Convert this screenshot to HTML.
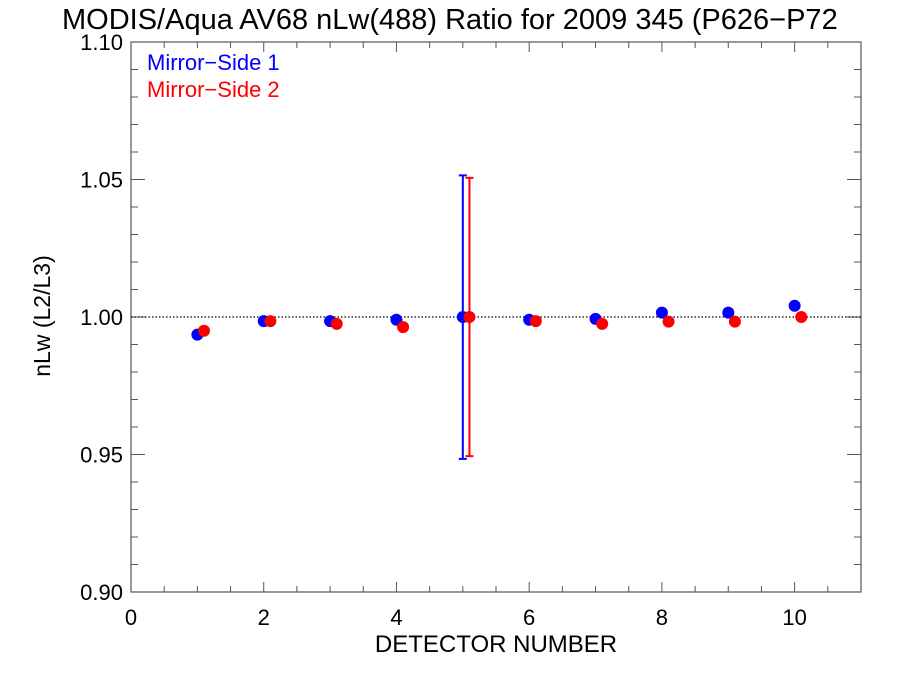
<!DOCTYPE html>
<html><head><meta charset="utf-8"><style>
body{margin:0;background:#fff}
svg{display:block;font-family:"Liberation Sans",Arial,sans-serif}
</style></head><body>
<svg id="chart" width="900" height="675">
<rect width="900" height="675" fill="#fff"/>
<text x="62" y="29" font-size="29">MODIS/Aqua AV68 nLw(488) Ratio for 2009 345 (P626−P72</text>
<g id="axes"></g>
<g id="marks"></g>
<text x="147" y="70" font-size="22" fill="#0000ff">Mirror−Side 1</text>
<text x="147" y="97" font-size="22" fill="#ff0000">Mirror−Side 2</text>
<text x="496" y="652" font-size="24" text-anchor="middle">DETECTOR NUMBER</text>
<text transform="translate(50,316) rotate(-90)" font-size="23" text-anchor="middle">nLw (L2/L3)</text>
</svg>
<script>
const detectors=[1,2,3,4,5,6,7,8,9,10];
const side1=[0.9936,0.9985,0.9985,0.999,1.000,0.999,0.9993,1.0016,1.0016,1.0041];
const side2=[0.995,0.9985,0.9975,0.9963,1.000,0.9985,0.9975,0.9983,0.9983,1.000];
const errDetector=5;
const err1=[0.9484,1.0515];
const err2=[0.9494,1.0506];
const xTicks=["0","2","4","6","8","10"];
const yTicks=["0.90","0.95","1.00","1.05","1.10"];
const X0=131,X1=861,Y0=592,Y1=42;
const sx=v=>X0+(v-0)/(11-0)*(X1-X0);
const sy=v=>Y0-(v-0.90)/(0.20)*(Y0-Y1);
const NS="http://www.w3.org/2000/svg";
function mk(tag,attrs,parent){const e=document.createElementNS(NS,tag);for(const k in attrs)e.setAttribute(k,attrs[k]);parent.appendChild(e);return e;}
const ax=document.getElementById('axes'),mg=document.getElementById('marks');
const frame=mk('rect',{x:X0,y:Y1,width:X1-X0,height:Y0-Y1,fill:'none',stroke:'#555','stroke-width':1.2},ax);


for(let i=0;i<=22;i++){const v=i*0.5,x=sx(v),L=(i%4===0)?10:6;
 mk('line',{x1:x,x2:x,y1:Y0,y2:Y0-L,stroke:'#555'},ax);
 mk('line',{x1:x,x2:x,y1:Y1,y2:Y1+L,stroke:'#555'},ax);}
xTicks.forEach(t=>{const e=mk('text',{x:sx(+t),y:625,'font-size':22,'text-anchor':'middle'},ax);e.textContent=t;
 
 });
for(let i=0;i<=20;i++){const v=0.90+i*0.01,y=sy(v),L=(i%5===0)?14:7;
 mk('line',{x1:X0,x2:X0+L,y1:y,y2:y,stroke:'#555'},ax);
 mk('line',{x1:X1,x2:X1-L,y1:y,y2:y,stroke:'#555'},ax);}
yTicks.forEach(t=>{const e=mk('text',{x:123,y:sy(+t)+8,'font-size':22,'text-anchor':'end'},ax);e.textContent=t;
 
 });
const ref=mk('line',{x1:X0,x2:X1,y1:sy(1),y2:sy(1),stroke:'#000','stroke-dasharray':'1.5,2','stroke-width':1.3},mg);


function errbar(xv,r,col,name){const x=sx(xv);const g=mk('g',{stroke:col,'stroke-width':2},mg);
 
 
 mk('line',{x1:x,x2:x,y1:sy(r[0]),y2:sy(r[1])},g);
 mk('line',{x1:x-4,x2:x+4,y1:sy(r[0]),y2:sy(r[0])},g);
 mk('line',{x1:x-4,x2:x+4,y1:sy(r[1]),y2:sy(r[1])},g);}
errbar(errDetector,err1,'#0000ff','error-bar-side-1');
errbar(errDetector+0.1,err2,'#ff0000','error-bar-side-2');
detectors.forEach((d,i)=>{
 const c=mk('circle',{cx:sx(d),cy:sy(side1[i]),r:6,fill:'#0000ff'},mg);
 
 });
detectors.forEach((d,i)=>{
 const c=mk('circle',{cx:sx(d+0.1),cy:sy(side2[i]),r:6,fill:'#ff0000'},mg);
 
 });
</script>
</body></html>
